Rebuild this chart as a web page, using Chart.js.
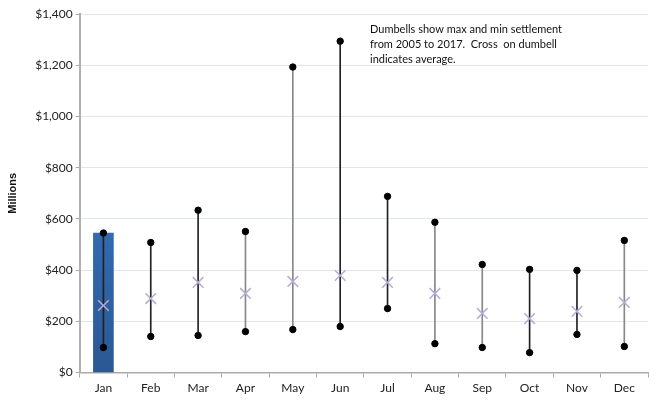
<!DOCTYPE html>
<html>
<head>
<meta charset="utf-8">
<script src="https://cdn.jsdelivr.net/npm/chart.js@4/dist/chart.umd.min.js"></script>
<style>
  html, body { margin: 0; padding: 0; background: #fff; }
  #wrap { width: 657px; height: 401px; }
</style>
</head>
<body>
<div id="wrap"><canvas id="c" width="657" height="401"></canvas></div>
<script>
// settlement data (millions)
var months = ['Jan','Feb','Mar','Apr','May','Jun','Jul','Aug','Sep','Oct','Nov','Dec'];
var maxVals = [545, 508, 634, 551, 1193, 1294, 688, 587, 422, 403, 399, 516];
var minVals = [98, 141, 145, 160, 168, 180, 250, 113, 98, 78, 149, 102];
var avgVals = [262, 289, 352, 309, 356, 379, 352, 309, 231, 211, 239, 274];
var barVals = [545, null, null, null, null, null, null, null, null, null, null, null];
var stemColors = ['#222','#222','#222','#888','#888','#222','#222','#888','#888','#222','#222','#888'];
var yTicks = [0, 200, 400, 600, 800, 1000, 1200, 1400];
var noteLines = ['Dumbells show max and min settlement', 'from 2005 to 2017.  Cross  on dumbell', 'indicates average.'];

var stems = months.map(function (m, i) { return [minVals[i], maxVals[i]]; });
var FONT = 'Lato, "Open Sans", sans-serif';

var ctx = document.getElementById('c').getContext('2d');

var noteText = {
    id: 'noteText',
    afterDraw: function (chart) {
        var c = chart.ctx;
        c.save();
        c.fillStyle = '#111';
        c.font = '11px ' + FONT;
        c.textBaseline = 'middle';
        for (var i = 0; i < noteLines.length; i++) {
            c.fillText(noteLines[i], 370, 29 + i * 15);
        }
        c.restore();
    }
};

var janGradient = function (context) {
    var chart = context.chart;
    var area = chart.chartArea;
    if (!area) return '#3a78c8';
    var g = chart.ctx.createLinearGradient(0, area.top, 0, area.bottom);
    g.addColorStop(0, '#3f84dc');
    g.addColorStop(1, '#2a5894');
    return g;
};

new Chart(ctx, {
    data: {
        labels: months,
        datasets: [
            {
                type: 'bar',
                data: barVals,
                backgroundColor: janGradient,
                barThickness: 20,
                grouped: false,
                order: 5
            },
            {
                type: 'bar',
                data: stems,
                backgroundColor: stemColors,
                barThickness: 1,
                grouped: false,
                order: 4
            },
            {
                type: 'line',
                data: maxVals,
                showLine: false,
                pointStyle: 'circle',
                pointRadius: 3.2,
                pointBackgroundColor: '#000',
                pointBorderColor: '#000',
                order: 2
            },
            {
                type: 'line',
                data: minVals,
                showLine: false,
                pointStyle: 'circle',
                pointRadius: 3.2,
                pointBackgroundColor: '#000',
                pointBorderColor: '#000',
                order: 2
            },
            {
                type: 'line',
                data: avgVals,
                showLine: false,
                pointStyle: 'crossRot',
                pointRadius: 7.5,
                pointBorderWidth: 1.5,
                pointBorderColor: '#b9abd0',
                order: 1
            }
        ]
    },
    options: {
        responsive: false,
        animation: false,
        layout: { padding: { top: 14, right: 0, left: 2, bottom: 3 } },
        plugins: {
            legend: { display: false },
            tooltip: { enabled: false }
        },
        scales: {
            x: {
                offset: true,
                grid: { offset: true, drawOnChartArea: false, drawTicks: true, tickLength: 5, color: '#aaa' },
                border: { color: '#aaa', width: 1.5 },
                ticks: { color: '#222', font: { family: FONT, size: 12 }, padding: 3 }
            },
            y: {
                min: 0,
                max: 1400,
                afterBuildTicks: function (axis) { axis.ticks = yTicks.map(function (v) { return { value: v }; }); },
                grid: { color: '#dfe6ef', tickLength: 4, tickColor: '#aaa' },
                border: { color: '#b0b0b0', width: 2 },
                ticks: {
                    color: '#222',
                    font: { family: FONT, size: 12 },
                    padding: 3,
                    callback: function (v) { return '$' + v.toLocaleString('en-US'); }
                },
                title: {
                    display: true,
                    text: 'Millions',
                    color: '#111',
                    font: { family: '"Liberation Sans", Arial, sans-serif', size: 11, weight: 'bold' },
                    padding: { bottom: 13 }
                }
            }
        }
    },
    plugins: [noteText]
});
</script>
</body>
</html>
